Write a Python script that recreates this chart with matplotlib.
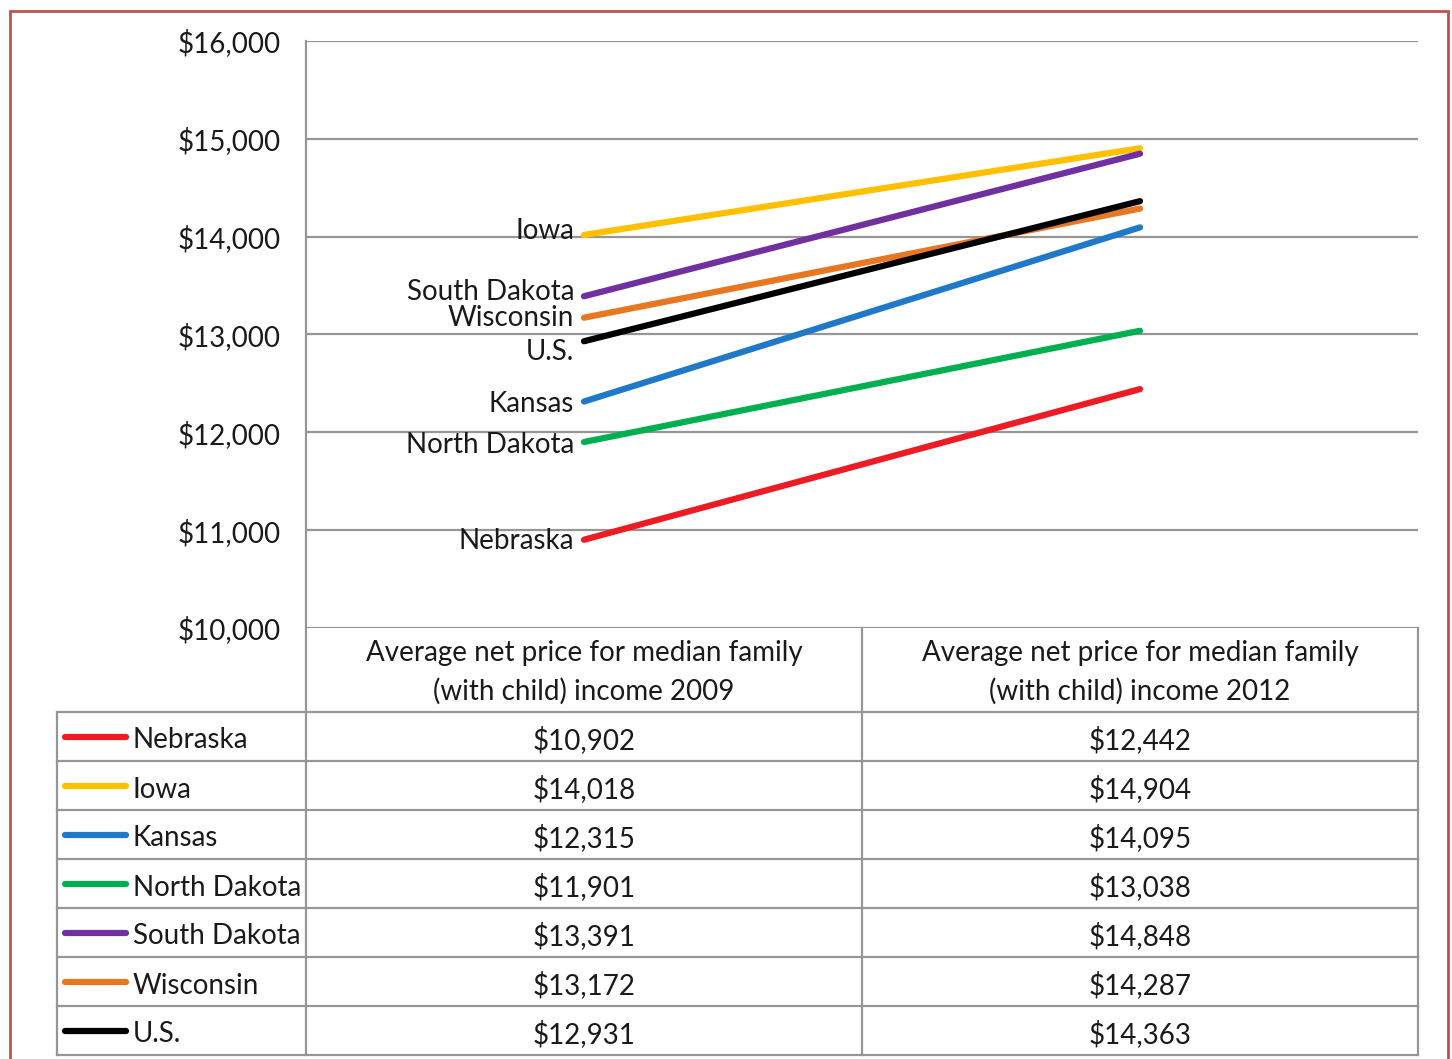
import matplotlib.pyplot as plt
from matplotlib.patches import Rectangle

# data
states = ["Nebraska", "Iowa", "Kansas", "North Dakota", "South Dakota", "Wisconsin", "U.S."]
price_2009 = [10902, 14018, 12315, 11901, 13391, 13172, 12931]
price_2012 = [12442, 14904, 14095, 13038, 14848, 14287, 14363]
colors = ["#ED1C24", "#FFC000", "#1F78C8", "#00B050", "#7030A0", "#E87722", "#000000"]
headers = ["Average net price for median family\n(with child) income 2009",
           "Average net price for median family\n(with child) income 2012"]
# small vertical nudges (points) so the left-side labels don't collide
label_nudge = [-1, 3, -2, -2, 3, 0, -8]

W, H = 1452, 1059
plt.rcParams['font.family'] = ['Lato', 'DejaVu Sans']
txt = "#1a1a1a"
grid = "#969696"
fs = 20

fig = plt.figure(figsize=(W / 100, H / 100), dpi=100)

def px_box(x0, y0, x1, y1):
    return [x0 / W, 1 - y1 / H, (x1 - x0) / W, (y1 - y0) / H]

# line chart
ax = fig.add_axes(px_box(306, 41, 1418, 628))
ax.set_xlim(0, 2)
ax.set_ylim(10000, 16000)
for v in range(10000, 16001, 1000):
    ax.axhline(v, color=grid, lw=1.6, zorder=1)
for s in ["top", "right", "bottom"]:
    ax.spines[s].set_visible(False)
ax.spines["left"].set_color(grid)
ax.spines["left"].set_linewidth(1.6)
ax.set_yticks(range(10000, 16001, 1000))
ax.set_yticklabels(["${:,}".format(v) for v in range(10000, 16001, 1000)], fontsize=fs, color=txt)
ax.tick_params(axis="y", length=0, pad=18)
ax.set_xticks([])

xs = [0.5, 1.5]
for i, name in enumerate(states):
    ax.plot(xs, [price_2009[i], price_2012[i]], color=colors[i], lw=4.5,
            solid_capstyle="round", zorder=3)
    ax.annotate(name, (xs[0], price_2009[i]), xytext=(-7, label_nudge[i]),
                textcoords="offset points", ha="right", va="center",
                fontsize=fs, color=txt)

# data table under the chart
tb = fig.add_axes(px_box(57, 628, 1418, 1058))
tb.set_xlim(57, 1418)
tb.set_ylim(1058, 628)
tb.axis("off")
col_edges = [57, 306, 862, 1418]
head_bottom = 712
row_h = (1055 - head_bottom) / len(states)
lc = dict(color=grid, lw=1.6, clip_on=False)

for x in col_edges[1:]:
    tb.plot([x, x], [628, 1055], **lc)
tb.plot([57, 57], [head_bottom, 1055], **lc)
for r in range(len(states) + 1):
    y = head_bottom + r * row_h
    tb.plot([57, 1418], [y, y], **lc)

for c, h in enumerate(headers):
    cx = (col_edges[c + 1] + col_edges[c + 2]) / 2
    tb.text(cx, (628 + head_bottom) / 2 + 2, h, ha="center", va="center",
            fontsize=fs, color=txt, linespacing=1.55)

for r, name in enumerate(states):
    cy = head_bottom + (r + 0.5) * row_h + 4
    tb.plot([65, 126], [cy - 4, cy - 4], color=colors[r], lw=4.5, solid_capstyle="round")
    tb.text(133, cy, name, ha="left", va="center", fontsize=fs, color=txt)
    for c, vals in enumerate([price_2009, price_2012]):
        cx = (col_edges[c + 1] + col_edges[c + 2]) / 2
        tb.text(cx, cy, "${:,}".format(vals[r]), ha="center", va="center",
                fontsize=fs, color=txt)

# red frame around the whole thing
fig.patches.append(Rectangle((10 / W, -0.01), 1438 / W, 1 - 11 / H + 0.01,
                             transform=fig.transFigure, fill=False,
                             edgecolor="#C0504D", lw=2))

fig.savefig("out.png", dpi=100, facecolor="white")
